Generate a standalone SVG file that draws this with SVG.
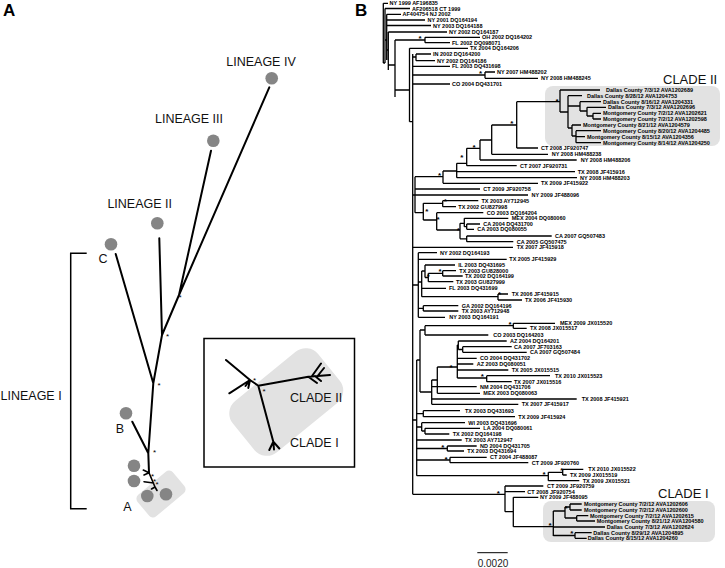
<svg xmlns="http://www.w3.org/2000/svg" width="725" height="568" viewBox="0 0 725 568">
<style>
.t{font-family:"Liberation Sans",Arial,sans-serif;font-weight:bold;font-size:5.5px;fill:#000}
.br{stroke:#000;stroke-width:1.3;fill:none}
.s{font-family:"Liberation Sans",Arial,sans-serif;font-weight:bold;font-size:8px;text-anchor:middle}
.sa{font-family:"Liberation Sans",Arial,sans-serif;font-size:8px;text-anchor:middle}
.lab{font-family:"Liberation Sans",Arial,sans-serif;font-size:12.5px;fill:#111}
.ln{stroke:#000;stroke-width:2;fill:none;stroke-linecap:round}
.dot{fill:#858585}
.box{fill:#e2e2e2}
</style>
<rect width="725" height="568" fill="#fff"/>
<!-- Panel letters -->
<text x="3" y="16" font-family="Liberation Sans,Arial,sans-serif" font-weight="bold" font-size="17">A</text>
<text x="355" y="16" font-family="Liberation Sans,Arial,sans-serif" font-weight="bold" font-size="17">B</text>

<!-- ============ PANEL A ============ -->
<g id="panelA">
  <rect class="box" x="138" y="480" width="46" height="28" rx="5" transform="rotate(-40 161 494)"/>
  <g id="panelA-connectors">
    <path class="ln" d="M269.3 87.3L179 295M211 150.7L179 295M179 295L162 335M159.3 238.3L162 335M162 335L153.3 383.3M115.7 254L153.3 383.3M153.3 383.3L148.3 453.3M132.3 421.7L148.3 453.3M148.3 453.3L149 472.7"/>
    <path class="ln" style="stroke-width:1.6" d="M149 472.7L143.3 470M149 472.7L144 475M149 472.7L155 487M144 481.7L153.5 483M155 487L157 490.5M155 487L151.5 489"/>
    <path fill="none" stroke="#000" stroke-width="1.5" d="M86.7 253.3H70.7V508.7H86.7"/>
  </g>
  <g id="lineage-iv"><circle class="dot" cx="271.7" cy="78.3" r="6.3"/><text class="lab" x="261" y="66" text-anchor="middle">LINEAGE IV</text></g>
  <g id="lineage-iii"><circle class="dot" cx="213.3" cy="140.7" r="6.3"/><text class="lab" x="189" y="123" text-anchor="middle">LINEAGE III</text></g>
  <g id="lineage-ii"><circle class="dot" cx="157.3" cy="223.3" r="6.3"/><text class="lab" x="139.7" y="208" text-anchor="middle">LINEAGE II</text></g>
  <g id="lineage-c"><circle class="dot" cx="111" cy="244.3" r="6.3"/><text class="lab" x="103" y="263" text-anchor="middle">C</text></g>
  <g id="lineage-b"><circle class="dot" cx="126" cy="413.3" r="6.3"/><text class="lab" x="120" y="433" text-anchor="middle">B</text></g>
  <g id="lineage-a">
    <circle class="dot" cx="134" cy="465.7" r="6.3"/>
    <circle class="dot" cx="134" cy="481" r="6.3"/>
    <circle class="dot" cx="147.3" cy="496" r="6.3"/>
    <circle class="dot" cx="166" cy="494.3" r="6.3"/>
    <text class="lab" x="127.5" y="511" text-anchor="middle">A</text>
  </g>
  <g id="lineage-i"><text class="lab" x="0.5" y="400">LINEAGE I</text></g>
  <g id="panelA-stars">
    <text class="sa" x="180" y="300">*</text>
    <text class="sa" x="167.5" y="339">*</text>
    <text class="sa" x="159" y="388">*</text>
    <text class="sa" x="154.5" y="455">*</text>
    <text class="sa" x="152.5" y="479" font-size="6">*</text>
    <text class="sa" x="154.5" y="484" font-size="6">*</text>
    <text class="sa" x="157" y="487" font-size="6">*</text>
  </g>
  <g id="inset">
    <rect x="204" y="338.5" width="150.5" height="128.5" fill="none" stroke="#000" stroke-width="1.5"/>
    <rect class="box" x="231.25" y="369" width="110" height="66" rx="16" transform="rotate(-39.2 286.25 402)"/>
    <path class="ln" d="M226 360L250 380M229.3 393.3L250 380M250 380L258.3 385.7M258.3 385.7L308.3 376.7L330 375M312 376L321 363.5M318 375.5L324 368M308.3 376.7L317 383M315 376L321 381M258.3 385.7L273.3 441.7M273.3 441.7L269.3 450M273.3 441.7L274 449.5M273.3 441.7L279.3 448.5M250 380L248.3 388M250 380L245.5 386"/>
    <text class="sa" x="254.5" y="383">*</text>
    <text class="sa" x="264" y="394">*</text>
    <text class="lab" x="290" y="401.5">CLADE II</text>
    <text class="lab" x="290" y="447">CLADE I</text>
  </g>
</g>

<!-- ============ PANEL B ============ -->
<g id="panelB">
  <rect class="box" x="545" y="86" width="175" height="60" rx="8"/>
  <rect class="box" x="543" y="501" width="172" height="41" rx="8"/>
  <text x="663" y="84" font-family="Liberation Sans,Arial,sans-serif" font-size="13" fill="#111">CLADE II</text>
  <text x="658" y="497.5" font-family="Liberation Sans,Arial,sans-serif" font-size="13" fill="#111">CLADE I</text>

  <g id="connectors">
    <!-- backbone -->
    <path class="br" d="M383.3 3.3V63M383.3 3.3H388M383.3 63H385M385 8.5V63M385 8.5H410M385 40H386.7M386.7 14.3V60M386.7 14.3H401M386.7 20H425M386.7 25.5H431M386.7 50H388.3M388.3 32V70M388.3 32H447M388.3 65H395M395 40V97M395 40H425M395 90H409.5M409.5 48.3V121.7M409.5 48.3H468M409.5 121.7H412.7M412.7 54V494.3"/>
    <path class="br" d="M425 37.3V42.7M425 37.3H480M425 42.7H450"/>
    <path class="br" d="M412.7 57H416M416 54V60.7M416 54H431M416 60.7H435M412.7 66.3H450M412.7 75H485M485 72V78.3M485 72H495M485 78.3H538M412.7 84H450"/>
    <!-- clade II lineage -->
    <path class="br" d="M415 176.7V212.7M415 176.7H443M415 189H480M412.7 195H528M415 212.7H423.3M412.7 247.3H513"/>
    <path class="br" d="M443 171V183.3M443 171H456.7M443 183.3H538M456.7 163.3V177.7M456.7 163.3H466.7M456.7 171.7H575M456.7 177.7H577M466.7 148.3V165.7M466.7 148.3H480M466.7 165.7H516.7M480 140V160M480 140H491.7M480 160H576.7M491.7 125V154.3M491.7 125H516.7M491.7 154.3H548M516.7 101.7V148M516.7 101.7H560M516.7 148H538"/>
    <path class="br" d="M560 90V112M560 90H600M560 112H568M568 95.7V128M568 95.7H582M568 106H580M568 128H572M580 101.7V111M580 101.7H601M580 111H587M587 107.3V116M587 107.3H606M587 116H593M593 113.3V119M593 113.3H601M593 119H601M572 125V136M572 125H581M572 136H576M576 130.7V142.7M576 130.7H601M576 136.7H585M576 142.7H601"/>
    <!-- TX subclade -->
    <path class="br" d="M423.3 203.3V220M423.3 203.3H442.7M423.3 220H436.7M442.7 200.7V206.7M442.7 200.7H478.3M442.7 206.7H456M436.7 212.7V230M436.7 212.7H483.3M436.7 230H460M460 223.3V238.8M460 223.3H464.3M460 238.8H466.7M464.3 218.3V226.7M464.3 218.3H508.3M464.3 226.7H466.7M466.7 224V229.3M466.7 224H480M466.7 229.3H474M466.7 236V241.7M466.7 236H551.7M466.7 241.7H513.3"/>
    <!-- R group -->
    <path class="br" d="M412.7 285H418.3M418.3 252.7V317.3M418.3 252.7H437M418.3 259.3H506.7M418.3 282H421.7M418.3 308.3H423.3M418.3 317.3H445M421.7 271V296.7M421.7 271H425M421.7 288.3H446M421.7 296.7H498M425 265V277.5M425 265H455M425 277.5H428.3M428.3 273.3V281.7M428.3 273.3H442.7M428.3 281.7H453.3M442.7 270.7V276M442.7 270.7H456M442.7 276H462.7M498 294V300M498 294H508M498 300H522M423.3 305.7V311M423.3 305.7H458.3M423.3 311H458.3"/>
    <!-- W group -->
    <path class="br" d="M412.7 420H416.7M416.7 360V475.7M416.7 360H420M420 330V392M420 330H425M420 392H431.7M425 325.7V335M425 325.7H513.3M425 335H488.3M513.3 323.3V328.3M513.3 323.3H555M513.3 328.3H526.7"/>
    <path class="br" d="M431.7 380V404.3M431.7 380H437.3M431.7 386.7H476.7M431.7 399H576.7M431.7 404.3H518.3M437.3 367V393.3M437.3 367H457.3M437.3 393.3H480M457.3 345V378M457.3 345H458.3M457.3 358.3H476.7M457.3 364H473.3M457.3 370H508.3M457.3 378H486.7M458.3 341V349.5M458.3 341H506.7M458.3 349.5H462.7M462.7 346.7V352.3M462.7 346.7H511.7M462.7 352.3H526.7M486.7 375.7V381.7M486.7 375.7H550M486.7 381.7H511.7"/>
    <path class="br" d="M416.7 413.7H423.3M423.3 410.7V416.7M423.3 410.7H460M423.3 416.7H515M416.7 427H421.7M421.7 422.7V431M421.7 422.7H465M421.7 431H425M425 428.3V434M425 428.3H480M425 434H449.3M416.7 440H461.7M416.7 448.5H447.3M447.3 446V451M447.3 446H476.7M447.3 451H464M416.7 460H450M450 457.3V462.7M450 457.3H486.7M450 462.7H528.3M416.7 475.7H548.3M548.3 472.3V480.7M548.3 472.3H562.7M548.3 480.7H579.3M562.7 469.3V475M562.7 469.3H583.3M562.7 475H566.7"/>
    <!-- clade I lineage -->
    <path class="br" d="M412.7 494.3H505M505 486V511.7M505 486H543.3M505 491.7H525M505 511.7H513.3M513.3 497.3V526.7M513.3 497.3H538.3M513.3 526.7H553.3M553.3 511V536M553.3 511H565M553.3 527H605M553.3 535.5H575M565 507V518M565 507H570M565 518H576.7M570 504V510M570 504H581.7M570 510H581.7M576.7 515.7V521M576.7 515.7H588.3M576.7 521H595M575 532.7V538.3M575 532.7H591.7M575 538.3H586.7"/>
    <!-- scale bar -->
    <path stroke="#000" stroke-width="1" d="M477.3 552.7H507.7"/>
  </g>
  <text x="493" y="567" text-anchor="middle" font-family="Liberation Sans,Arial,sans-serif" font-size="10" fill="#222">0.0020</text>

  <g id="stars">
    <text class="s" x="420" y="41">*</text>
    <text class="s" x="480.5" y="75.5">*</text>
    <text class="s" x="557" y="103.5">*</text>
    <text class="s" x="511.7" y="125.5">*</text>
    <text class="s" x="474" y="150">*</text>
    <text class="s" x="461.7" y="159.5">*</text>
    <text class="s" x="439.5" y="177.5">*</text>
    <text class="s" x="445.3" y="204">*</text>
    <text class="s" x="426.7" y="213.8">*</text>
    <text class="s" x="438" y="221.8">*</text>
    <text class="s" x="458.3" y="232.8">*</text>
    <text class="s" x="440" y="273.8">*</text>
    <text class="s" x="428.3" y="278.8">*</text>
    <text class="s" x="499.5" y="297.3">*</text>
    <text class="s" x="510" y="327">*</text>
    <text class="s" x="451" y="370.2">*</text>
    <text class="s" x="482.3" y="378.5">*</text>
    <text class="s" x="442.7" y="449.5">*</text>
    <text class="s" x="446" y="461.5">*</text>
    <text class="s" x="544" y="476.5">*</text>
    <text class="s" x="561.7" y="472.5">*</text>
    <text class="s" x="498.3" y="495.5">*</text>
    <text class="s" x="550" y="527.8">*</text>
    <text class="s" x="566" y="510.5">*</text>
    <text class="s" x="571.7" y="535.5">*</text>
  </g>

  <g id="taxa" class="t">
    <text x="389.5" y="5.3">NY 1999 AF196835</text>
    <text x="412" y="10.5">AF206518 CT 1999</text>
    <text x="402.5" y="16.3">AF404754 NJ 2002</text>
    <text x="427.5" y="22">NY 2001 DQ164194</text>
    <text x="433" y="27.5">NY 2003 DQ164188</text>
    <text x="449" y="34">NY 2002 DQ164187</text>
    <text x="482" y="39.3">OH 2002 DQ164202</text>
    <text x="452" y="44.7">FL 2002 DQ098071</text>
    <text x="470" y="50.3">TX 2004 DQ164206</text>
    <text x="433" y="56">IN 2002 DQ164200</text>
    <text x="437" y="62.7">NY 2002 DQ164186</text>
    <text x="452" y="68.3">FL 2003 DQ431698</text>
    <text x="497" y="74">NY 2007 HM488202</text>
    <text x="541" y="80.3">NY 2008 HM488245</text>
    <text x="452" y="86">CO 2004 DQ431701</text>
    <text x="606" y="92">Dallas County 7/3/12 AVA1202689</text>
    <text x="587" y="97.7">Dallas County 8/28/12 AVA1204753</text>
    <text x="603" y="103.7">Dallas County 8/16/12 AVA1204331</text>
    <text x="608" y="109.3">Dallas County 7/3/12 AVA1202696</text>
    <text x="603" y="115.3">Montgomery County 7/2/12 AVA1202621</text>
    <text x="603" y="121">Montgomery County 7/2/12 AVA1202598</text>
    <text x="583" y="127">Montgomery County 8/21/12 AVA1204579</text>
    <text x="603" y="132.7">Montgomery County 8/20/12 AVA1204485</text>
    <text x="587" y="138.7">Montgomery County 8/15/12 AVA1204356</text>
    <text x="603" y="144.7">Montgomery County 8/14/12 AVA1204250</text>
    <text x="541" y="150">CT 2008 JF920747</text>
    <text x="551.7" y="156.3">NY 2008 HM488238</text>
    <text x="580.7" y="162">NY 2008 HM488206</text>
    <text x="520" y="167.7">CT 2007 JF920731</text>
    <text x="577.7" y="173.7">TX 2008 JF415916</text>
    <text x="580" y="179.7">NY 2008 HM488203</text>
    <text x="541" y="185.3">TX 2009 JF415922</text>
    <text x="483.3" y="191">CT 2009 JF920758</text>
    <text x="531.5" y="197">NY 2009 JF488096</text>
    <text x="481.5" y="202.7">TX 2003 AY712945</text>
    <text x="458.3" y="208.7">TX 2002 GU827998</text>
    <text x="486.7" y="214.7">CO 2003 DQ164204</text>
    <text x="511.7" y="220.3">MEX 2004 DQ080060</text>
    <text x="483.3" y="226">CA 2004 DQ431700</text>
    <text x="477.3" y="231.3">CA 2003 DQ080055</text>
    <text x="555" y="238">CA 2007 GQ507483</text>
    <text x="516.7" y="243.7">CA 2005 GQ507475</text>
    <text x="516.7" y="249.3">TX 2007 JF415918</text>
    <text x="440" y="254.7">NY 2002 DQ164193</text>
    <text x="509.3" y="261.3">TX 2005 JF415929</text>
    <text x="458.3" y="267">IL 2003 DQ431695</text>
    <text x="459.3" y="272.7">TX 2003 GU828000</text>
    <text x="465" y="278">TX 2002 DQ164199</text>
    <text x="456" y="283.7">TX 2003 GU827999</text>
    <text x="449" y="290.3">FL 2003 DQ431699</text>
    <text x="511.7" y="296">TX 2006 JF415915</text>
    <text x="525" y="302">TX 2006 JF415930</text>
    <text x="461.7" y="307.7">GA 2002 DQ164196</text>
    <text x="461.7" y="313">TX 2003 AY712948</text>
    <text x="449.3" y="319.3">NY 2003 DQ164191</text>
    <text x="560" y="325.3">MEX 2009 JX015520</text>
    <text x="530" y="330.3">TX 2008 JX015517</text>
    <text x="493.3" y="337">CO 2003 DQ164203</text>
    <text x="510" y="343">AZ 2004 DQ164201</text>
    <text x="514" y="348.7">CA 2007 JF703163</text>
    <text x="530" y="354.3">CA 2007 GQ507484</text>
    <text x="480" y="360.3">CO 2004 DQ431702</text>
    <text x="476.7" y="366">AZ 2003 DQ080051</text>
    <text x="511.7" y="372">TX 2005 JX015515</text>
    <text x="555" y="377.7">TX 2010 JX015523</text>
    <text x="514" y="383.7">TX 2007 JX015516</text>
    <text x="480" y="388.7">NM 2004 DQ431706</text>
    <text x="483.3" y="395.3">MEX 2003 DQ080063</text>
    <text x="581.7" y="401">TX 2008 JF415921</text>
    <text x="521.7" y="406.3">TX 2007 JF415917</text>
    <text x="465" y="412.7">TX 2003 DQ431693</text>
    <text x="518.3" y="418.7">TX 2009 JF415924</text>
    <text x="468.3" y="424.7">WI 2003 DQ431696</text>
    <text x="483.3" y="430.3">LA 2004 DQ080061</text>
    <text x="452.7" y="436">TX 2002 DQ164198</text>
    <text x="465" y="442">TX 2003 AY712947</text>
    <text x="480" y="448">ND 2004 DQ431705</text>
    <text x="467.3" y="453">TX 2003 DQ431694</text>
    <text x="490" y="459.3">CT 2004 JF488087</text>
    <text x="531.7" y="464.7">CT 2009 JF920760</text>
    <text x="588.3" y="471.3">TX 2010 JX015522</text>
    <text x="570" y="477">TX 2009 JX015519</text>
    <text x="582.7" y="482.7">TX 2009 JX015521</text>
    <text x="547" y="488">CT 2009 JF920759</text>
    <text x="527.3" y="493.7">CT 2008 JF920754</text>
    <text x="540" y="499.3">NY 2009 JF488095</text>
    <text x="584" y="506">Montgomery County 7/2/12 AVA1202606</text>
    <text x="584" y="512">Montgomery County 7/2/12 AVA1202600</text>
    <text x="590" y="517.7">Montgomery County 7/2/12 AVA1202615</text>
    <text x="596.7" y="523">Montgomery County 8/21/12 AVA1204580</text>
    <text x="606.7" y="529">Dallas County 7/3/12 AVA1202624</text>
    <text x="593.3" y="534.7">Dallas County 8/29/12 AVA1204895</text>
    <text x="587.7" y="540.3">Dallas County 8/15/12 AVA1204260</text>
  </g>
</g>
</svg>
